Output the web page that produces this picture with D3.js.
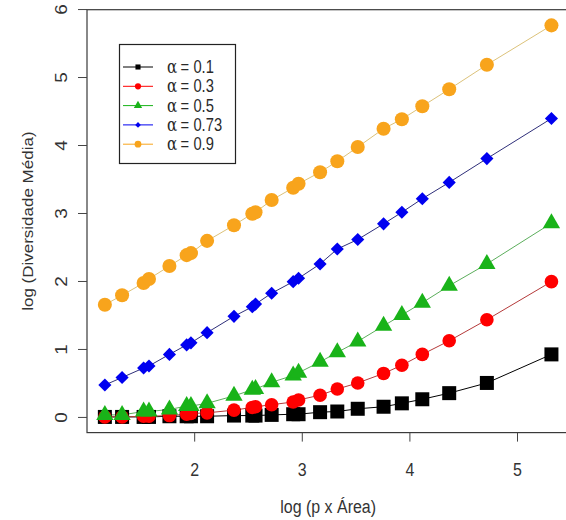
<!DOCTYPE html>
<html>
<head>
<meta charset="utf-8">
<script src="https://cdn.jsdelivr.net/npm/d3@7"></script>
<style>
  body { margin: 0; background: #fff; }
  svg { display: block; font-family: "Liberation Sans", Arial, sans-serif; }
</style>
</head>
<body>
<svg></svg>
<script>

// log (p x Area), shared by every series
var logArea = [1.17, 1.33, 1.53, 1.58, 1.77, 1.93, 1.97, 2.12, 2.37, 2.54, 2.57, 2.72,
               2.92, 2.97, 3.17, 3.33, 3.52, 3.76, 3.93, 4.12, 4.37, 4.72, 5.32]

var alphaLabels = ["0.1", "0.3", "0.5", "0.73", "0.9"]

// log (Diversidade Media) for each alpha
var divA01 = [0.00, 0.00, 0.00, 0.00, 0.01, 0.01, 0.01, 0.01, 0.02, 0.02, 0.02, 0.03,
              0.04, 0.04, 0.07, 0.08, 0.12, 0.15, 0.20, 0.26, 0.35, 0.50, 0.92]
var divA03 = [0.00, 0.00, 0.01, 0.01, 0.02, 0.04, 0.05, 0.06, 0.10, 0.14, 0.15, 0.18,
              0.22, 0.25, 0.32, 0.41, 0.50, 0.64, 0.76, 0.92, 1.12, 1.43, 1.99]
var divA05 = [0.03, 0.03, 0.08, 0.08, 0.11, 0.16, 0.16, 0.20, 0.31, 0.40, 0.41, 0.51,
              0.61, 0.65, 0.81, 0.95, 1.11, 1.34, 1.50, 1.68, 1.93, 2.25, 2.85]
var divA073 = [0.47, 0.58, 0.72, 0.75, 0.92, 1.06, 1.09, 1.24, 1.48, 1.62, 1.66, 1.82,
               1.99, 2.04, 2.25, 2.47, 2.61, 2.84, 3.01, 3.21, 3.45, 3.80, 4.39]
var divA09 = [1.65, 1.79, 1.97, 2.03, 2.22, 2.38, 2.41, 2.59, 2.82, 2.99, 3.01, 3.19,
              3.37, 3.43, 3.60, 3.76, 3.97, 4.24, 4.38, 4.57, 4.82, 5.18, 5.76]

var xTicks = [2, 3, 4, 5]
var yTicks = [0, 1, 2, 3, 4, 5, 6]

var xTitle = "log (p x Área)"
var yTitle = "log (Diversidade Média)"

var allSeries = [divA01, divA03, divA05, divA073, divA09]

// marker look per series (R pch 15, 19, 17, 18, 19)
var looks = [
  {fill: "#000000", line: "#000000", shape: d3.symbolSquare,   size: 196, rot: 0,  lsize: 26},
  {fill: "#ff0000", line: "#b53a3a", shape: d3.symbolCircle,   size: 145, rot: 0,  lsize: 30},
  {fill: "#19b319", line: "#5cae5c", shape: d3.symbolTriangle, size: 130, rot: 0,  lsize: 30},
  {fill: "#0000f0", line: "#2f2f7a", shape: d3.symbolSquare,   size: 86,  rot: 45, lsize: 16},
  {fill: "#f8a41c", line: "#dcc27a", shape: d3.symbolCircle,   size: 155, rot: 0,  lsize: 36}
]

var squash = 0.84   // the picture is a bit narrower than tall

var drawPlot = function()
{
  var width = 566;
  var height = 520;
  var margins = {top: 9.7, left: 87, bottom: 432.6, right: 569.3}

  var svg = d3.select("svg")
    .attr("width", width)
    .attr("height", height)

  // R style 4% padding around the data range
  var xExt = d3.extent(logArea)
  var xPad = (xExt[1] - xExt[0]) * 0.04
  var yExt = d3.extent(d3.merge(allSeries))
  var yPad = (yExt[1] - yExt[0]) * 0.04

  var xScale = d3.scaleLinear()
                .domain([xExt[0] - xPad, xExt[1] + xPad])
                .range([margins.left, margins.right])

  var yScale = d3.scaleLinear()
                .domain([yExt[0] - yPad, yExt[1] + yPad])
                .range([margins.bottom, margins.top])

  // frame
  svg.append("rect")
     .attr("x", margins.left)
     .attr("y", margins.top)
     .attr("width", margins.right - margins.left)
     .attr("height", margins.bottom - margins.top)
     .attr("fill", "none")
     .attr("stroke", "#3a3a3a")
     .attr("stroke-width", 1.2)

  var xAxis = d3.axisBottom(xScale).tickValues(xTicks).tickSize(9).tickFormat(d3.format("d"))
  var yAxis = d3.axisLeft(yScale).tickValues(yTicks).tickSize(9).tickFormat(d3.format("d"))

  var gx = svg.append("g")
    .attr("transform", "translate(0," + margins.bottom + ")")
    .call(xAxis)
  gx.select(".domain").remove()
  gx.selectAll(".tick line").attr("stroke", "#444")
  gx.selectAll(".tick text").remove()
  gx.selectAll(".tick")
    .append("text")
    .attr("transform", "translate(0,43.5) scale(" + squash + ",1)")
    .attr("text-anchor", "middle")
    .attr("fill", "#333")
    .style("font-size", "19px")
    .text(function(d){ return d; })

  var gy = svg.append("g")
    .attr("transform", "translate(" + margins.left + ",0)")
    .call(yAxis)
  gy.select(".domain").remove()
  gy.selectAll(".tick line").attr("stroke", "#444")
  gy.selectAll(".tick text").remove()
  gy.selectAll(".tick")
    .append("text")
    .attr("transform", "translate(-20,0) scale(" + squash + ",1) rotate(-90)")
    .attr("text-anchor", "middle")
    .attr("fill", "#333")
    .style("font-size", "19px")
    .text(function(d){ return d; })

  // axis titles
  svg.append("text")
     .attr("transform", "translate(" + ((margins.left + margins.right) / 2) + ",513) scale(" + squash + ",1)")
     .attr("text-anchor", "middle")
     .attr("fill", "#333")
     .style("font-size", "19px")
     .text(xTitle)

  svg.append("text")
     .attr("transform", "translate(33," + ((margins.top + margins.bottom) / 2) + ") scale(" + squash + ",1) rotate(-90)")
     .attr("text-anchor", "middle")
     .attr("fill", "#333")
     .style("font-size", "17px")
     .text(yTitle)

  var drawLine = d3.line()
          .x(function(d, i){ return xScale(logArea[i]); })
          .y(function(d){ return yScale(d); })

  // lines first, then markers on top (type = "o")
  allSeries.forEach(function(series, k)
  {
    svg.append("path")
       .datum(series)
       .attr("d", drawLine)
       .attr("fill", "none")
       .attr("stroke", looks[k].line)
       .attr("stroke-width", 1)
  })

  allSeries.forEach(function(series, k)
  {
    var look = looks[k]
    svg.append("g")
       .selectAll("path")
       .data(series)
       .enter()
       .append("path")
       .attr("d", d3.symbol().type(look.shape).size(look.size))
       .attr("transform", function(d, i){
          return "translate(" + xScale(logArea[i]) + "," + yScale(d) + ") rotate(" + look.rot + ")";
       })
       .attr("fill", look.fill)
  })

  // legend
  var legend = svg.append("g")
  legend.append("rect")
     .attr("x", 119.5)
     .attr("y", 44.5)
     .attr("width", 116)
     .attr("height", 119)
     .attr("fill", "#fff")
     .attr("stroke", "#222")
     .attr("stroke-width", 1.2)

  var rows = legend.selectAll(".row")
     .data(alphaLabels)
     .enter()
     .append("g")
     .attr("class", "row")
     .attr("transform", function(d, i){ return "translate(0," + (67 + i * 19.3) + ")"; })

  rows.append("line")
     .attr("x1", 123).attr("x2", 153)
     .attr("y1", 0).attr("y2", 0)
     .attr("stroke", function(d, i){ return looks[i].fill; })
     .attr("stroke-width", 1)

  rows.append("path")
     .attr("d", function(d, i){ return d3.symbol().type(looks[i].shape).size(looks[i].lsize)(); })
     .attr("transform", function(d, i){ return "translate(138,0) rotate(" + looks[i].rot + ")"; })
     .attr("fill", function(d, i){ return looks[i].fill; })

  // alpha = value, spaced like R plotmath
  var label = rows.append("text")
     .attr("transform", "translate(167,6) scale(" + squash + ",1)")
     .attr("fill", "#2a2a2a")
     .style("font-size", "17.5px")
  label.append("tspan")
     .attr("x", 0)
     .style("font-family", "'DejaVu Serif', serif")
     .style("font-size", "18px")
     .text("α")
  label.append("tspan")
     .attr("x", 16)
     .text("=")
  label.append("tspan")
     .attr("x", 31.5)
     .text(function(d){ return d; })
}

drawPlot();

</script>
</body>
</html>
